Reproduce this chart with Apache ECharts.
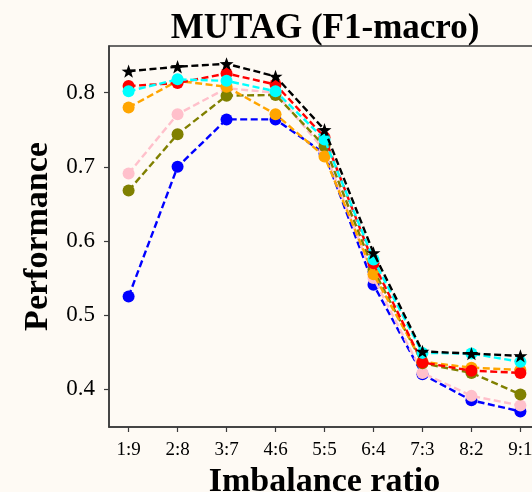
<!DOCTYPE html>
<html><head><meta charset="utf-8">
<script src="https://cdn.jsdelivr.net/npm/echarts@6/dist/echarts.min.js"></script>
<style>html,body{margin:0;padding:0;overflow:hidden;background:#fefaf4;width:532px;height:492px}#c{width:560px;height:492px}</style>
</head><body><div id="c"></div>
<script>
const categories = ['1:9','2:8','3:7','4:6','5:5','6:4','7:3','8:2','9:1'];
const yTicks = [0.4,0.5,0.6,0.7,0.8];
const blueVals   = [0.525,0.700,0.764,0.764,0.718,0.541,0.420,0.385,0.370];
const pinkVals   = [0.691,0.771,0.806,0.800,0.722,0.550,0.422,0.391,0.378];
const oliveVals  = [0.668,0.744,0.796,0.797,0.728,0.561,0.435,0.422,0.393];
const orangeVals = [0.780,0.816,0.808,0.771,0.714,0.555,0.437,0.429,0.426];
const redVals    = [0.809,0.813,0.826,0.811,0.740,0.570,0.436,0.425,0.422];
const cyanVals   = [0.802,0.818,0.816,0.802,0.737,0.575,0.449,0.448,0.437];
const blackVals  = [0.829,0.835,0.839,0.822,0.750,0.584,0.451,0.448,0.445];

const STAR = 'path://M0,-10L2.35,-3.24L9.51,-3.09L3.8,1.24L5.88,8.09L0,4L-5.88,8.09L-3.8,1.24L-9.51,-3.09L-2.35,-3.24Z';
const seriesDefs = [
  {name:'blue', color:'#0000ff', vals:blueVals, sym:'circle'},
  {name:'pink', color:'#ffc0cb', vals:pinkVals, sym:'circle'},
  {name:'olive', color:'#808000', vals:oliveVals, sym:'circle'},
  {name:'orange', color:'#ffa500', vals:orangeVals, sym:'circle'},
  {name:'red', color:'#ff0000', vals:redVals, sym:'circle'},
  {name:'cyan', color:'#00ffff', vals:cyanVals, sym:'circle'},
  {name:'black', color:'#000000', vals:blackVals, sym:STAR}
];
const FONT = "'Liberation Serif','Times New Roman',serif";
const chart = echarts.init(document.getElementById('c'), null, {renderer:'canvas'});
chart.setOption({
  backgroundColor:'#fefaf4',
  animation:false,
  title:{text:'MUTAG (F1-macro)', left:320, textAlign:'center', top:6,
    textStyle:{fontFamily:FONT, fontWeight:'bold', fontSize:35, color:'#000'}},
  grid:{left:109, top:46, right:20, bottom:65, outerBoundsMode:'none', containLabel:false,
    show:true, borderColor:'#3a3a3a', borderWidth:1.5, backgroundColor:'transparent'},
  xAxis:{type:'value', min:-0.4, max:8.4,
    name:'Imbalance ratio', nameLocation:'middle', nameGap:31,
    nameTextStyle:{fontFamily:FONT, fontWeight:'bold', fontSize:34, color:'#000'},
    axisLine:{show:true, onZero:false, lineStyle:{color:'#3a3a3a', width:1.5}},
    axisTick:{show:true, inside:false, length:5, customValues:categories.map((c,i)=>i), lineStyle:{color:'#3a3a3a', width:1.2}},
    axisLabel:{customValues:categories.map((c,i)=>i), formatter:v=>categories[Math.round(v)], margin:14,
      fontFamily:FONT, fontSize:19, color:'#000'},
    splitLine:{show:false}},
  yAxis:{type:'value', min:0.349, max:0.863,
    name:'Performance', nameLocation:'middle', nameGap:53, nameRotate:90,
    nameTextStyle:{fontFamily:FONT, fontWeight:'bold', fontSize:34, color:'#000'},
    axisLine:{show:true, onZero:false, lineStyle:{color:'#3a3a3a', width:1.5}},
    axisTick:{show:true, inside:false, length:5, customValues:yTicks, lineStyle:{color:'#3a3a3a', width:1.2}},
    axisLabel:{customValues:yTicks, formatter:v=>v.toFixed(1), margin:14,
      fontFamily:FONT, fontSize:23, color:'#000'},
    splitLine:{show:false}},
  series: seriesDefs.map((s,k)=>({
    type:'line', name:s.name, data:s.vals.map((v,i)=>[i,v]),
    symbol:s.sym, symbolSize:s.sym==='circle'?12:14, symbolKeepAspect:true, showSymbol:true,
    z:2+k,
    lineStyle:{color:s.color, width:2.4, type:[7,3.5]},
    itemStyle:{color:s.color, borderWidth:0}
  }))
});
</script></body></html>
